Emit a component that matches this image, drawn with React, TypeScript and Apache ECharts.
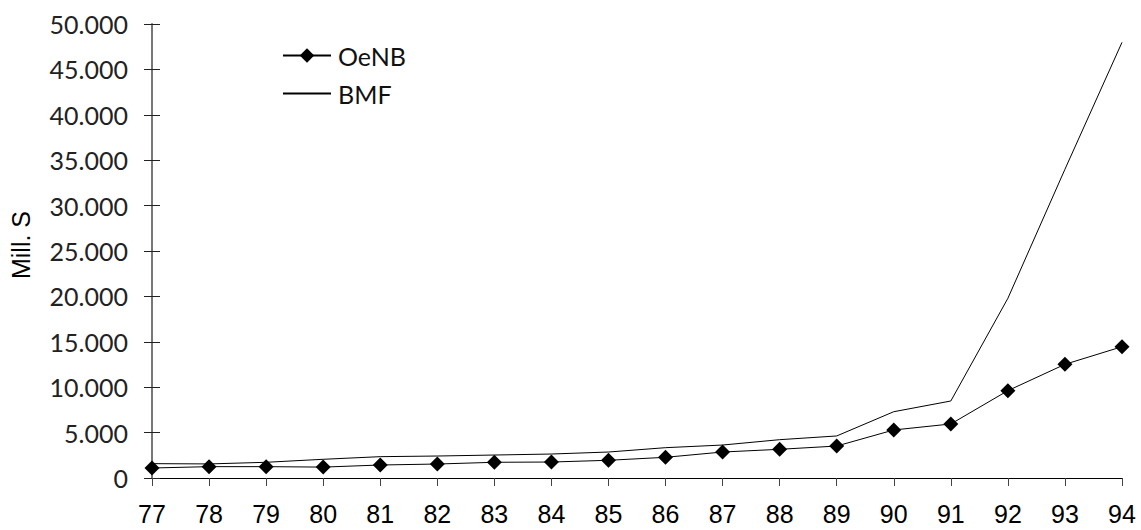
import React, { useEffect, useRef } from "react";
import * as echarts from "echarts";

const years = ["77","78","79","80","81","82","83","84","85","86","87","88","89","90","91","92","93","94"];
const oenb = [1100,1250,1250,1200,1430,1540,1730,1760,1950,2280,2860,3160,3520,5290,5950,9620,12520,14460];
const bmf = [1580,1550,1730,2060,2350,2420,2530,2640,2860,3340,3630,4220,4630,7300,8480,19790,34000,47980];
const yTicks = { min: 0, max: 50000, interval: 5000 };

const fmt = (v: number) => {
  if (v === 0) return "0";
  const s = String(Math.round(v));
  return s.replace(/\B(?=(\d{3})+(?!\d))/g, ".");
};

export default function App() {
  const ref = useRef<HTMLDivElement>(null);
  useEffect(() => {
    const chart = echarts.init(ref.current!, null, { renderer: "svg" });
    chart.setOption({
      animation: false,
      backgroundColor: "#fff",
      grid: { left: 152, right: 19, top: 24, bottom: 52 },
      legend: {
        orient: "vertical",
        left: 277,
        top: 38,
        itemWidth: 48,
        itemHeight: 18,
        itemGap: 13,
        textStyle: { fontFamily: "Lato", fontSize: 25, color: "#111", padding: [0, 0, 0, 2] },
        data: [
          { name: "OeNB" },
          { name: "BMF", itemStyle: { opacity: 0 } },
        ],
      },
      xAxis: {
        type: "category",
        data: years,
        boundaryGap: false,
        axisLine: { lineStyle: { color: "#000", width: 1 } },
        axisTick: { length: 8, lineStyle: { color: "#444" } },
        axisLabel: { fontFamily: "Liberation Sans", fontSize: 25, color: "#000", margin: 23 },
      },
      yAxis: [
        {
          type: "value",
          ...yTicks,
          name: "Mill. S",
          nameLocation: "middle",
          nameRotate: 90,
          nameGap: 119,
          nameTextStyle: { fontFamily: "Liberation Sans", fontSize: 25, color: "#000", padding: [0, 0, 0, 12] },
          axisLine: { show: true, lineStyle: { color: "#777", width: 2 } },
          axisTick: { show: true, length: 8, lineStyle: { color: "#222" } },
          splitLine: { show: false },
          axisLabel: { fontFamily: "Lato", fontSize: 25, color: "#222", margin: 24, formatter: fmt },
        },
        {
          type: "value",
          ...yTicks,
          position: "left",
          axisLine: { show: false },
          axisTick: { show: true, inside: true, length: 8, lineStyle: { color: "#222" } },
          axisLabel: { show: false },
          splitLine: { show: false },
        },
      ],
      series: [
        {
          name: "OeNB",
          type: "line",
          data: oenb,
          symbol: "diamond",
          symbolSize: 15,
          itemStyle: { color: "#000" },
          lineStyle: { color: "#000", width: 1 },
        },
        {
          name: "BMF",
          type: "line",
          data: bmf,
          symbol: "none",
          itemStyle: { color: "#000" },
          lineStyle: { color: "#000", width: 1 },
        },
      ],
    });
    return () => chart.dispose();
  }, []);
  return <div ref={ref} style={{ width: 1141, height: 530, position: "absolute", left: 0, top: 0 }} />;
}
